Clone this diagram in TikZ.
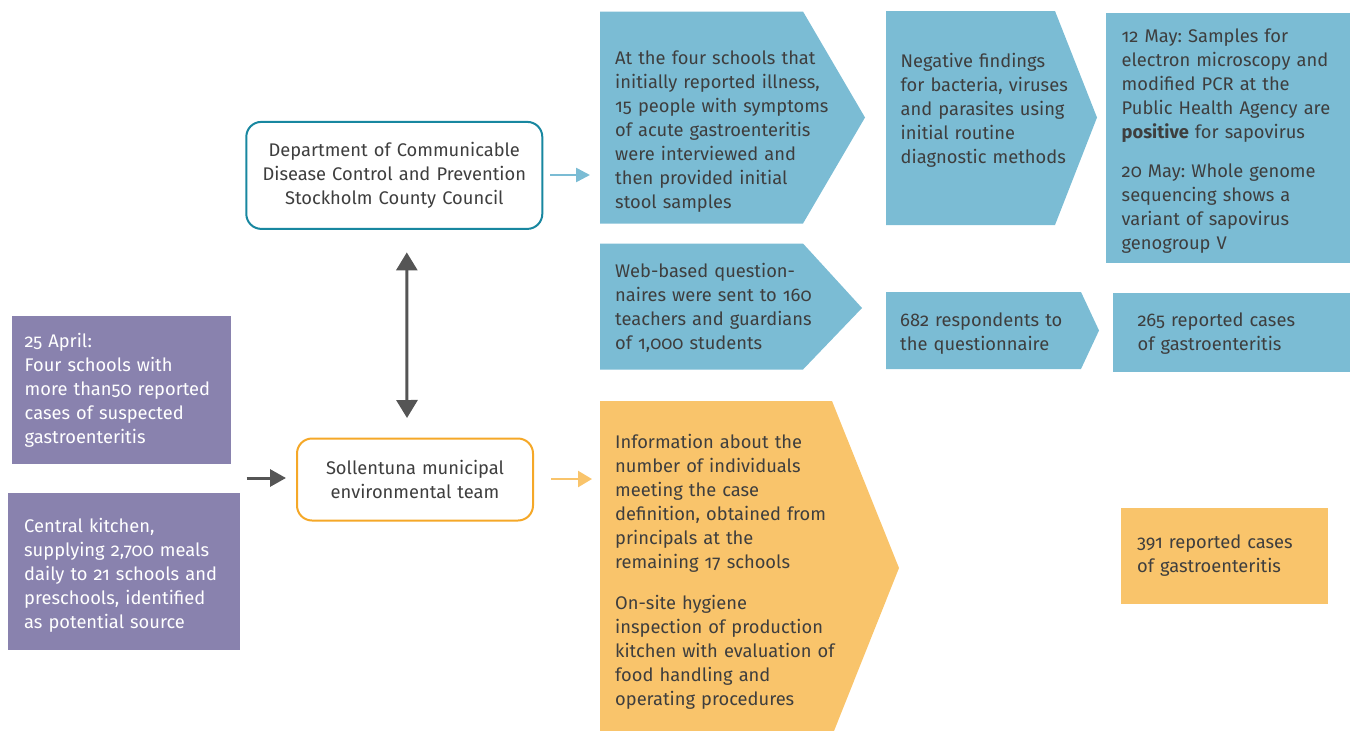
\documentclass[tikz,border=0pt]{standalone}
\usepackage{fontspec}
\setmainfont{Fira Sans}[Numbers=OldStyle]
\usetikzlibrary{arrows.meta}
\definecolor{bluefill}{RGB}{123,188,212}
\definecolor{orfill}{RGB}{249,196,107}
\definecolor{purp}{RGB}{137,130,174}
\definecolor{txt}{RGB}{62,62,62}
\definecolor{tealline}{RGB}{24,135,160}
\definecolor{orline}{RGB}{245,168,40}
\definecolor{garrow}{RGB}{85,85,85}
\frenchspacing
\begin{document}
\begin{tikzpicture}[x=1pt,y=-1pt,
  tx/.style={anchor=base west, inner sep=0pt, align=left, text=txt,
    font=\fontsize{18.3}{24}\selectfont, text width=#1},
  wt/.style={tx=#1, text=white},
  rbox/.style={draw, line width=2pt, rounded corners=15pt, fill=white,
    inner sep=0pt, align=center, text=txt, font=\fontsize{18.3}{24}\selectfont},
  arrB/.style={line width=2.5pt, draw=bluefill, -{Triangle[length=14pt,width=14pt]}},
  arrO/.style={line width=2.5pt, draw=orfill, -{Triangle[length=14pt,width=16pt]}},
  arrG/.style={line width=3pt, draw=garrow, -{Triangle[length=16pt,width=17pt]}},
  arrD/.style={line width=3pt, draw=garrow, {Triangle[length=18pt,width=21pt]}-{Triangle[length=18pt,width=21pt]}},
]
\useasboundingbox (0,0) rectangle (1353,731);

% ---- shapes ----
\fill[bluefill] (600,11.5) -- (803,11.5) -- (865,117.5) -- (803,223.5) -- (600,223.5) -- cycle;
\coordinate (c1w) at (600,175);
\fill[bluefill] (886,11) -- (1055,11) -- (1097,117.5) -- (1055,225) -- (886,225) -- cycle;
\fill[bluefill] (1106,13) rectangle (1350,263);
\fill[bluefill] (600,243.5) -- (803,243.5) -- (862,308) -- (803,369.5) -- (600,369.5) -- cycle;
\fill[bluefill] (886,292) -- (1081,292) -- (1099,330.5) -- (1081,369) -- (886,369) -- cycle;
\fill[bluefill] (1113,293) rectangle (1350,372);
\fill[purp] (12,316) rectangle (231,464);
\fill[purp] (8,493) rectangle (240,650);
\fill[orfill] (600,401) -- (832,401) -- (899,568) -- (834,731) -- (600,731) -- cycle;
\coordinate (c5w) at (600,479);
\fill[orfill] (1121,508) rectangle (1328,604);

% ---- rounded boxes ----
\node[rbox, draw=tealline, minimum width=296pt, minimum height=107pt, text width=290pt]
  (dept) at (394.3,175.4) {Department of Communicable\\Disease Control and Prevention\\Stockholm County Council};
\node[rbox, draw=orline, minimum width=236pt, minimum height=82pt, text width=230pt]
  (soll) at (415,479.5) {Sollentuna municipal\\environmental team};

% ---- texts ----
\node[tx=245pt] (t1) at (615,64) {At the four schools that\\initially reported illness,\\15 people with symptoms\\of acute gastroenteritis\\were interviewed and\\then provided initial\\stool samples};
\node[tx=190pt] (t2) at (900.5,67.5) {Negative findings\\for bacteria, viruses\\and parasites using\\initial routine\\diagnostic methods};
\node[tx=228pt] (t3) at (1121.5,42.5) {12 May: Samples for\\electron microscopy and\\modified PCR at the\\Public Health Agency are\\\textbf{positive} for sapovirus\\[15pt]20 May: Whole genome\\sequencing shows a\\variant of sapovirus\\genogroup V};
\node[tx=220pt] (t4) at (615,277.5) {Web-based question-\\naires were sent to 160\\teachers and guardians\\of 1,000 students};
\node[tx=190pt] (t5) at (900,326) {682 respondents to\\the questionnaire};
\node[tx=200pt] (t6) at (1137.5,326) {265 reported cases\\of gastroenteritis};
\node[wt=215pt] (p1) at (24.5,347.5) {25 April:\\Four schools with\\more than50 reported\\cases of suspected\\gastroenteritis};
\node[wt=215pt] (p2) at (24,532.5) {Central kitchen,\\supplying 2,700 meals\\daily to 21 schools and\\preschools, identified\\as potential source};
\node[tx=250pt] (t7) at (615,448.5) {Information about the\\number of individuals\\meeting the case\\definition, obtained from\\principals at the\\remaining 17 schools\\[16.5pt]On-site hygiene\\inspection of production\\kitchen with evaluation of\\food handling and\\operating procedures};
\node[tx=190pt] (t8) at (1137,548.5) {391 reported cases\\of gastroenteritis};

% ---- connectors ----
\draw[arrB, shorten <=7pt, shorten >=10pt] (dept.east |- c1w) -- (c1w);
\draw[arrO, shorten <=17pt, shorten >=8pt] (soll.east |- c5w) -- (c5w);
\coordinate (gs) at (246.5,478);
\draw[arrG, shorten >=10pt] (gs) -- (gs -| soll.west);
\draw[arrD] ([xshift=12.5pt,yshift=-22.5pt]dept.south) -- ([xshift=-8pt,yshift=19.5pt]soll.north);
\end{tikzpicture}
\end{document}
